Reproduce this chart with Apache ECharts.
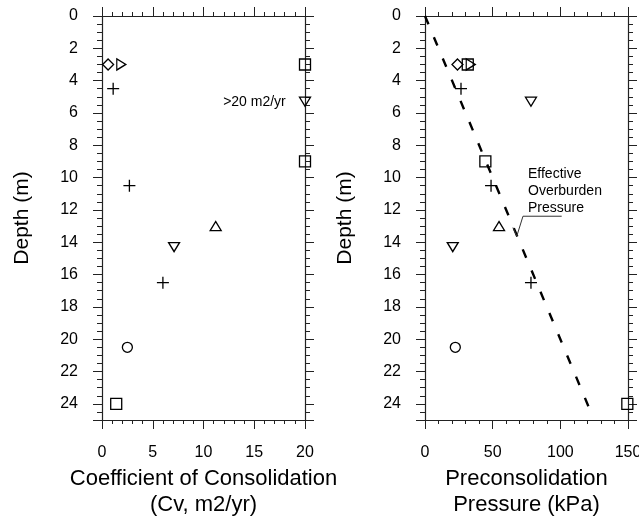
<!DOCTYPE html>
<html>
<head>
<meta charset="utf-8">
<script src="https://cdn.jsdelivr.net/npm/echarts@6/dist/echarts.min.js"></script>
<style>
  html, body { margin: 0; padding: 0; background: #fff; }
  #chart { width: 639px; height: 516px; }
</style>
</head>
<body>
<div id="chart"></div>
<script>
// 数据：[数值, 深度 m]
// 固结系数 Cv (m2/yr)
const cvDiamond = [[0.6, 3]]
const cvTriRight = [[1.9, 3]]
const cvPlus = [[1.1, 4.5], [2.7, 10.5], [6.0, 16.5]]
const cvSquare = [[20, 3], [20, 9], [1.4, 24]]
const cvTriDown = [[20, 5.3], [7.1, 14.3]]
const cvTriUp = [[11.2, 13]]
const cvCircle = [[2.5, 20.5]]

// 先期固结压力 (kPa)
const pcDiamond = [[24, 3]]
const pcTriRight = [[33.8, 3]]
const pcPlus = [[26.6, 4.5], [48.8, 10.5], [78.3, 16.5]]
const pcSquare = [[31.6, 3], [44.6, 9], [149.5, 24]]
const pcTriDown = [[78.3, 5.3], [20.5, 14.3]]
const pcTriUp = [[54.7, 13]]
const pcCircle = [[22.4, 20.5]]

// 有效上覆压力线 & 标注引线
const overburden = [[0, 0], [121, 24.2]]
const leader = [[101, 12.39], [72.4, 12.39], [67.8, 13.63], [65.0, 13.09]]

// 坐标轴刻度
const depthTicks = { min: 0, max: 25, interval: 2 }
const cvTicks = { min: 0, max: 20, interval: 5 }
const pcTicks = { min: 0, max: 150, interval: 50 }

const font = 'Liberation Sans, Arial, Helvetica, sans-serif'
const lineColor = '#222'

const chart = echarts.init(document.getElementById('chart'))

// 坐标轴生成
const xAx = (grid, ticks, position, name, showLabel) => ({
  type: 'value',
  gridIndex: grid,
  position: position,
  min: ticks.min,
  max: ticks.max,
  interval: ticks.interval,
  name: name,
  nameLocation: 'middle',
  nameGap: 45,
  nameTextStyle: { fontFamily: font, fontSize: 22, lineHeight: 26, color: '#000' },
  axisLine: { show: true, onZero: false, lineStyle: { color: lineColor, width: 1.2 } },
  axisTick: { show: true, inside: false, length: 9, lineStyle: { color: lineColor, width: 1 } },
  minorTick: { show: true, splitNumber: 5, length: 4, lineStyle: { color: lineColor, width: 1 } },
  axisLabel: { show: showLabel, margin: 25, fontFamily: font, fontSize: 16, color: '#000' },
  splitLine: { show: false }
})

const yAx = (grid, position, showLabel) => ({
  type: 'value',
  gridIndex: grid,
  position: position,
  inverse: true,
  min: depthTicks.min,
  max: depthTicks.max,
  interval: depthTicks.interval,
  name: showLabel ? 'Depth (m)' : '',
  nameLocation: 'middle',
  nameGap: 69,
  nameTextStyle: { fontFamily: font, fontSize: 21, color: '#000' },
  axisLine: { show: true, onZero: false, lineStyle: { color: lineColor, width: 1.2 } },
  axisTick: { show: true, inside: false, length: 9, lineStyle: { color: lineColor, width: 1 } },
  minorTick: { show: true, splitNumber: 4, length: 5, lineStyle: { color: lineColor, width: 1 } },
  axisLabel: { show: showLabel, margin: 24, showMaxLabel: false, fontFamily: font, fontSize: 16, color: '#000' },
  splitLine: { show: false }
})

// 符号
const symbols = {
  diamond: { symbol: 'path://M5,0L10,5L5,10L0,5Z', size: 11 },
  triRight: { symbol: 'path://M0,0L10,5L0,10Z', size: [9, 11] },
  triDown: { symbol: 'path://M0,0L10,0L5,9Z', size: [11, 9] },
  triUp: { symbol: 'path://M5,0L10,9L0,9Z', size: [11, 9] },
  plus: { symbol: 'path://M0,5L10,5M5,0L5,10', size: 12 },
  square: { symbol: 'rect', size: 11 },
  circle: { symbol: 'circle', size: 10 }
}

const scatter = (data, kind, xi, yi) => ({
  type: 'scatter',
  xAxisIndex: xi,
  yAxisIndex: yi,
  data: data,
  symbol: symbols[kind].symbol,
  symbolSize: symbols[kind].size,
  clip: false,
  silent: true,
  itemStyle: { color: 'rgba(0,0,0,0)', borderColor: '#000', borderWidth: 1.3, opacity: 1 },
  z: 5
})

// 左图 >20 的标注
const cvTriDownData = cvTriDown.map((d, i) => i === 0
  ? { value: d, label: { show: true, position: 'left', distance: 13, formatter: '>20 m2/yr', fontFamily: font, fontSize: 14, color: '#000' } }
  : d)

const option = {
  animation: false,
  backgroundColor: '#fff',
  grid: [
    { left: 102, top: 16, width: 203, height: 404, containLabel: false, outerBoundsMode: 'none' },
    { left: 425, top: 16, width: 203, height: 404, containLabel: false, outerBoundsMode: 'none' }
  ],
  xAxis: [
    xAx(0, cvTicks, 'bottom', 'Coefficient of Consolidation\n(Cv, m2/yr)', true),
    xAx(0, cvTicks, 'top', '', false),
    xAx(1, pcTicks, 'bottom', 'Preconsolidation\nPressure (kPa)', true),
    xAx(1, pcTicks, 'top', '', false)
  ],
  yAxis: [
    yAx(0, 'left', true),
    yAx(0, 'right', false),
    yAx(1, 'left', true),
    yAx(1, 'right', false)
  ],
  series: [
    scatter(cvDiamond, 'diamond', 0, 0),
    scatter(cvTriRight, 'triRight', 0, 0),
    scatter(cvPlus, 'plus', 0, 0),
    scatter(cvSquare, 'square', 0, 0),
    scatter(cvTriDownData, 'triDown', 0, 0),
    scatter(cvTriUp, 'triUp', 0, 0),
    scatter(cvCircle, 'circle', 0, 0),

    scatter(pcDiamond, 'diamond', 2, 2),
    scatter(pcTriRight, 'triRight', 2, 2),
    scatter(pcPlus, 'plus', 2, 2),
    scatter(pcSquare, 'square', 2, 2),
    scatter(pcTriDown, 'triDown', 2, 2),
    scatter(pcTriUp, 'triUp', 2, 2),
    scatter(pcCircle, 'circle', 2, 2),
    {
      type: 'line',
      xAxisIndex: 2,
      yAxisIndex: 2,
      data: overburden,
      symbol: 'none',
      silent: true,
      lineStyle: { color: '#000', width: 2.4, type: [9, 14] },
      z: 3
    },
    {
      type: 'line',
      xAxisIndex: 2,
      yAxisIndex: 2,
      data: leader,
      symbol: 'none',
      silent: true,
      lineStyle: { color: '#333', width: 1 },
      z: 3
    }
  ],
  graphic: [
    {
      type: 'text',
      left: 528,
      top: 166,
      silent: true,
      style: {
        text: 'Effective\nOverburden\nPressure',
        font: '14px ' + font,
        lineHeight: 17,
        fill: '#000'
      }
    }
  ]
}

chart.setOption(option)
</script>
</body>
</html>
